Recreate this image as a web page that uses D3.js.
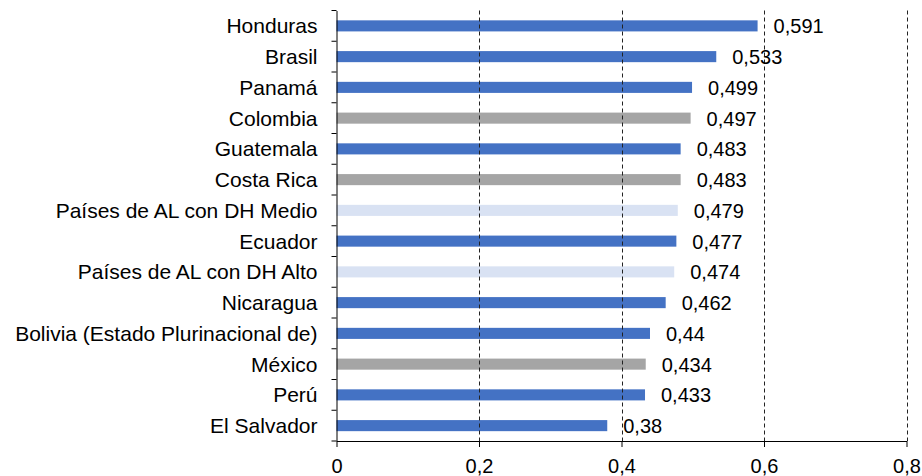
<!DOCTYPE html>
<meta charset="utf-8">
<style>

body {
  margin: 0;
  background: #fff;
}

text {
  font-family: "Liberation Sans", Arial, sans-serif;
  font-size: 20px;
  fill: #000;
}

.cat text {
  font-size: 21px;
}

</style>
<svg></svg>
<script src="https://d3js.org/d3.v7.min.js"></script>
<script>

var categories = ["Honduras", "Brasil", "Panamá", "Colombia", "Guatemala", "Costa Rica",
    "Países de AL con DH Medio", "Ecuador", "Países de AL con DH Alto", "Nicaragua",
    "Bolivia (Estado Plurinacional de)", "México", "Perú", "El Salvador"];

var values = [0.591, 0.533, 0.499, 0.497, 0.483, 0.483, 0.479, 0.477, 0.474, 0.462, 0.44, 0.434, 0.433, 0.38];

// b = country bar, g = grey highlight, l = regional average
var groups = ["b", "b", "b", "g", "b", "g", "l", "b", "l", "b", "b", "g", "b", "b"];

var xTicks = [0, 0.2, 0.4, 0.6, 0.8];

var colors = {b: "#4472C4", g: "#A5A5A5", l: "#D9E2F3"};

var width = 922,
    height = 476;

var margin = {top: 10.5, right: 15.5, bottom: 35, left: 336.5};

var svg = d3.select("svg")
    .attr("width", width)
    .attr("height", height);

var x = d3.scaleLinear()
    .domain([0, 0.8])
    .range([margin.left, width - margin.right]);

var y = d3.scaleBand()
    .domain(categories)
    .range([margin.top, height - margin.bottom])
    .paddingInner(0.64)
    .paddingOuter(0.32);

var comma = function(v) { return String(v).replace(".", ","); };

var data = categories.map(function(c, i) { return {name: c, value: values[i], group: groups[i]}; });

// bars
svg.append("g")
  .selectAll("rect")
  .data(data)
  .enter().append("rect")
    .attr("x", x(0))
    .attr("y", function(d) { return y(d.name); })
    .attr("width", function(d) { return x(d.value) - x(0); })
    .attr("height", y.bandwidth())
    .attr("fill", function(d) { return colors[d.group]; });

// dashed grid
svg.append("g")
  .selectAll("line")
  .data(xTicks.slice(1))
  .enter().append("line")
    .attr("x1", function(d) { return Math.round(x(d)) + 0.5; })
    .attr("x2", function(d) { return Math.round(x(d)) + 0.5; })
    .attr("y1", margin.top)
    .attr("y2", height - margin.bottom)
    .attr("stroke", "#222")
    .attr("stroke-width", 1)
    .attr("stroke-dasharray", "4,3");

// value labels
svg.append("g")
  .selectAll("text")
  .data(data)
  .enter().append("text")
    .attr("x", function(d) { return x(d.value) + 16; })
    .attr("y", function(d) { return y(d.name) + y.bandwidth() / 2; })
    .attr("dy", "0.38em")
    .text(function(d) { return comma(d.value); });

// axes
var yAxis = d3.axisLeft(y)
    .tickSizeInner(0)
    .tickSizeOuter(0)
    .tickPadding(19);

var yg = svg.append("g")
    .attr("class", "cat")
    .attr("transform", "translate(" + margin.left + ",0)")
    .call(yAxis);

yg.select(".domain").attr("stroke", "#000");
yg.selectAll("text").attr("dy", "0.36em");

// category separators on the y axis
var step = y.step();
yg.append("g")
  .selectAll("line")
  .data(d3.range(categories.length + 1))
  .enter().append("line")
    .attr("x1", -5)
    .attr("x2", 0)
    .attr("y1", function(i) { return margin.top + i * step; })
    .attr("y2", function(i) { return margin.top + i * step; })
    .attr("stroke", "#000");

var xAxis = d3.axisBottom(x)
    .tickValues(xTicks)
    .tickSizeInner(6)
    .tickSizeOuter(0)
    .tickPadding(12)
    .tickFormat(function(d) { return comma(d); });

var xg = svg.append("g")
    .attr("transform", "translate(0," + (height - margin.bottom) + ")")
    .call(xAxis);

xg.select(".domain").attr("stroke", "#000");
xg.selectAll(".tick line").attr("stroke", "#000");

</script>
